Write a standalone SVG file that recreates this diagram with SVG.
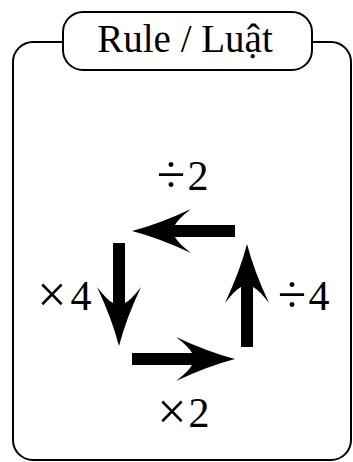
<svg xmlns="http://www.w3.org/2000/svg" width="353" height="462" viewBox="0 0 353 462">
<style>
.frame{fill:none;stroke:#000;stroke-width:2}
.title{fill:#fff;stroke:#000;stroke-width:2}
.t{font-family:"Liberation Serif","Times New Roman",serif;fill:#000}
.op{font-size:52px}
.dg{font-size:42px}
.arr{fill:#000}
</style>
<defs>
<path id="arrow" d="M0,-6 H60 Q57,-12 44,-22 Q76,-7 103,0 Q76,7 44,22 Q57,12 60,6 H0 Z"/>
</defs>
<g id="frame">
<path class="frame" d="M63,42 H33 A20,20 0 0 0 13,62 V440 A20,20 0 0 0 33,460 H331 A20,20 0 0 0 351,440 V62 A20,20 0 0 0 331,42 H312"/>
</g>
<g id="title">
<rect class="title" x="63" y="12" width="249" height="58" rx="20" ry="20"/>
<text class="t" x="185" y="52" font-size="39" text-anchor="middle">Rule / Luật</text>
</g>
<g id="connectors" class="arr">
<use href="#arrow" transform="translate(235,231) rotate(180)"/>
<use href="#arrow" transform="translate(119,243) rotate(90)"/>
<use href="#arrow" transform="translate(132,359)"/>
<use href="#arrow" transform="translate(247,347) rotate(-90)"/>
</g>
<g id="label-div2">
<text class="t op" x="171" y="192" text-anchor="middle">÷</text>
<text class="t dg" x="198" y="190" text-anchor="middle">2</text>
</g>
<g id="label-mul4">
<text class="t op" x="52" y="312" text-anchor="middle">×</text>
<text class="t dg" x="81" y="310" text-anchor="middle">4</text>
</g>
<g id="label-div4">
<text class="t op" x="292" y="312" text-anchor="middle">÷</text>
<text class="t dg" x="319" y="310" text-anchor="middle">4</text>
</g>
<g id="label-mul2">
<text class="t op" x="172" y="429" text-anchor="middle">×</text>
<text class="t dg" x="199" y="427" text-anchor="middle">2</text>
</g>
</svg>
